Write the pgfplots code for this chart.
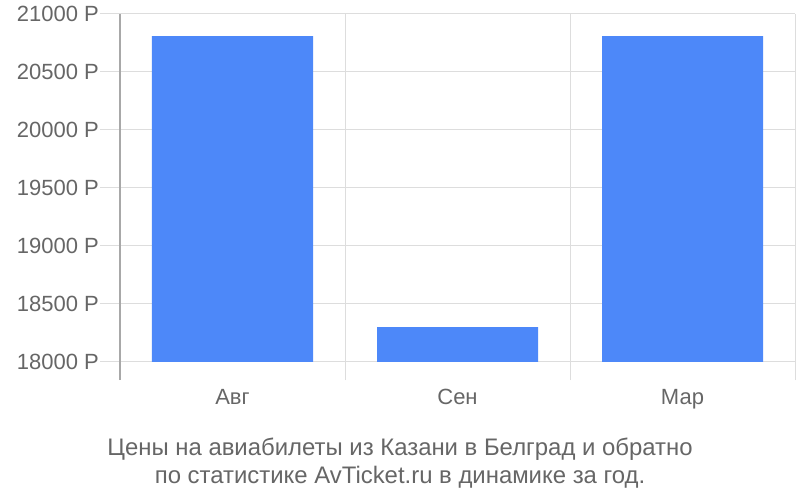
\documentclass[border=0pt]{standalone}
\usepackage{pgfplots}
\pgfplotsset{compat=1.18}
\usepackage{fontspec}
\setmainfont{Liberation Sans}
\definecolor{barblue}{HTML}{4D88F9}
\definecolor{txt}{HTML}{666666}
\definecolor{gridc}{HTML}{DDDDDD}
\definecolor{axc}{HTML}{A8A8A8}

\begin{document}
\begin{tikzpicture}
\begin{axis}[
  scale only axis, width=675pt, height=348pt,
  xmin=0, xmax=3, ymin=18000, ymax=21000,
  axis line style={draw=none},
  tick pos=left, tick align=outside,
  xtick={0.5,1.5,2.5}, xticklabels={Авг,Сен,Мар},
  minor xtick={0,1,2,3},
  ytick={18000,18500,...,21000},
  yticklabels={18000 Р,18500 Р,19000 Р,19500 Р,20000 Р,20500 Р,21000 Р},
  scaled y ticks=false,
  xminorgrids=true, ymajorgrids=true, xmajorgrids=false,
  major grid style={gridc, line width=1pt},
  minor grid style={gridc, line width=1pt},
  major tick length=20pt, minor tick length=18pt,
  major x tick style={draw=none},
  ytick style={gridc, line width=1pt},
  minor x tick style={gridc, line width=1pt},
  extra x ticks={0}, extra x tick labels={},
  extra x tick style={xmajorgrids=true,
    major grid style={axc, line width=1.5pt}},
  tick label style={font=\fontsize{22}{26}\selectfont, text=txt},
  yticklabel style={inner sep=1pt},
  xticklabel style={yshift=-4pt},
]
\addplot[ybar, bar width=161pt, bar shift=0pt, fill=barblue, draw=none]
  coordinates {(0.5,20810) (1.5,18300) (2.5,20810)};
\end{axis}
% darker part of the left axis line below the plot
\draw[axc, line width=1.5pt] (0,0) -- (0,-18pt);
\node[anchor=base, text=txt, font=\fontsize{23.9}{28}\selectfont] at (280pt,-93pt)
  {Цены на авиабилеты из Казани в Белград и обратно};
\node[anchor=base, text=txt, font=\fontsize{23.9}{28}\selectfont] at (280pt,-121pt)
  {по статистике AvTicket.ru в динамике за год.};
\pgfresetboundingbox
\path (-120pt,-138pt) rectangle (680pt,362pt);
\end{tikzpicture}
\end{document}
